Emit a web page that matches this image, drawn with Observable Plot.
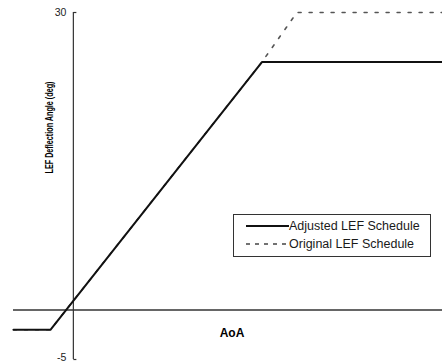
<!DOCTYPE html>
<html>
<head>
<meta charset="utf-8">
<script src="https://cdn.jsdelivr.net/npm/d3@7"></script>
<script src="https://cdn.jsdelivr.net/npm/@observablehq/plot@0.6"></script>
<style>
  html, body { margin: 0; padding: 0; background: #fff; }
  #wrap { position: relative; width: 442px; height: 364px; }
  #legend {
    position: absolute; left: 233px; top: 214px; width: 198px; height: 43px;
    border: 1px solid #333; box-sizing: border-box; background: #fff;
    font-family: "Liberation Sans", Arial, sans-serif; font-size: 12.5px; color: #1a1a1a;
  }
  .row { position: absolute; left: 12px; height: 15px; display: flex; align-items: center; white-space: nowrap; }
</style>
</head>
<body>
<div id="wrap"></div>
<script>
// AoA (arbitrary degrees) and LEF deflection (deg)
const adjustedAoA = [-6, -2.3, 18.9, 37];
const adjustedLEF = [-2, -2, 25, 25];
const originalAoA = [-6, -2.3, 18.9, 22.4, 37];
const originalLEF = [-2, -2, 25, 30, 30];
const yTicks = [30, -5];
const seriesNames = ["Adjusted LEF Schedule", "Original LEF Schedule"];
const yLabel = "LEF Deflection Angle (deg)";
const xLabel = "AoA";

const adjusted = adjustedAoA.map((x, i) => ({x, y: adjustedLEF[i]}));
const original = originalAoA.map((x, i) => ({x, y: originalLEF[i]}));

const font = "'Liberation Sans', Arial, sans-serif";

const chart = Plot.plot({
  width: 442,
  height: 364,
  marginLeft: 13,
  marginRight: 0,
  marginTop: 12,
  marginBottom: 5,
  x: {domain: [-6, 37], axis: null},
  y: {domain: [-5, 30], axis: null},
  style: {fontFamily: font, background: "#fff"},
  marks: [
    Plot.ruleY([0], {stroke: "#333", strokeWidth: 1.4}),
    Plot.ruleX([0], {y1: -5, y2: 30, stroke: "#333", strokeWidth: 1.2}),
    Plot.link(yTicks, {x1: 0, x2: 0.3, y1: d => d, y2: d => d, stroke: "#333", strokeWidth: 1.2}),
    Plot.text(yTicks.filter(d => d > 0), {x: 0, y: d => d, text: d => String(d), textAnchor: "end", dx: -7, fontSize: 10.5, fill: "#222"}),
    Plot.text(yTicks.filter(d => d < 0), {x: 0, y: d => d, text: d => String(d), textAnchor: "end", dx: -7, dy: -2, fontSize: 10.5, fill: "#222"}),
    Plot.line(original, {x: "x", y: "y", stroke: "#555", strokeWidth: 1.6, strokeDasharray: "3,8"}),
    Plot.line(adjusted, {x: "x", y: "y", stroke: "#111", strokeWidth: 2}),
    Plot.text([xLabel], {x: 15.9, y: -2.3, text: d => d, fontWeight: "bold", fontSize: 12, fill: "#000"}),
    Plot.text([yLabel], {x: -2.4, y: 18.4, text: d => d, rotate: -90, fontWeight: "bold", fontSize: 10, fill: "#000", className: "ylab"})
  ]
});

const wrap = document.getElementById("wrap");
wrap.appendChild(chart);
d3.select(chart).selectAll(".ylab text")
  .attr("textLength", 92)
  .attr("lengthAdjust", "spacingAndGlyphs");

const legend = document.createElement("div");
legend.id = "legend";
const styles = [{dash: null, color: "#111", w: 2}, {dash: "4,5", color: "#444", w: 1.5}];
seriesNames.forEach((name, i) => {
  const row = document.createElement("div");
  row.className = "row";
  row.style.top = (i === 0 ? 3 : 21) + "px";
  const s = styles[i];
  row.innerHTML = `<svg width="43" height="10"><line x1="0" x2="43" y1="5" y2="5" stroke="${s.color}" stroke-width="${s.w}" ${s.dash ? `stroke-dasharray="${s.dash}"` : ""}/></svg><span>${name}</span>`;
  legend.appendChild(row);
});
wrap.appendChild(legend);
</script>
</body>
</html>
